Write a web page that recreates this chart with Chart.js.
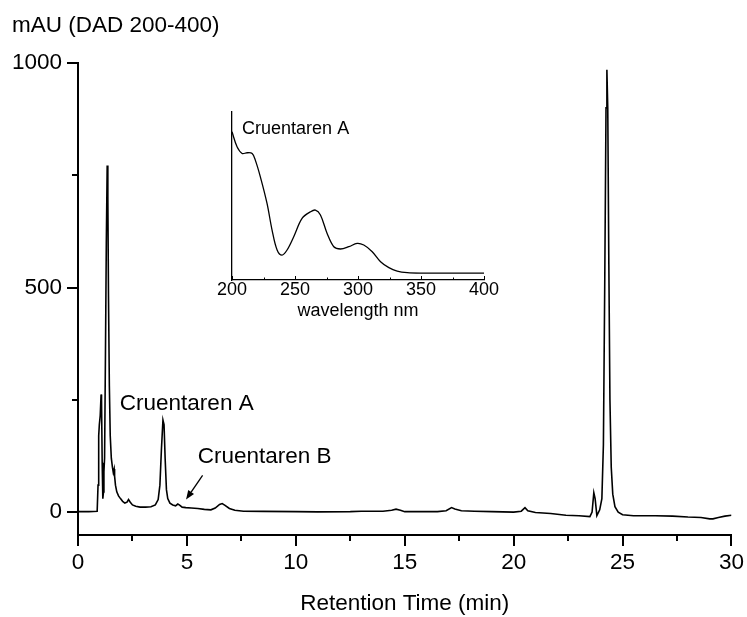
<!DOCTYPE html>
<html><head><meta charset="utf-8">
<script src="https://cdn.jsdelivr.net/npm/chart.js@4"></script>
<style>
html,body{margin:0;padding:0;background:#fff;}
#wrap{position:relative;width:747px;height:617px;overflow:hidden;}
#main{position:absolute;left:0;top:0;}
#inset{position:absolute;left:180px;top:95px;}
</style></head><body>
<div id="wrap">
<canvas id="main" width="747" height="617"></canvas>
<canvas id="inset" width="330" height="235"></canvas>
</div>
<script>
// ---- Chromatogram data ----
const retentionTime = [0.00,0.50,0.88,0.92,0.95,0.98,1.02,1.06,1.08,1.11,1.14,1.17,1.19,1.22,1.26,1.30,1.34,1.37,1.40,1.44,1.48,1.53,1.58,1.62,1.66,1.68,1.72,1.78,1.86,1.95,2.05,2.15,2.25,2.32,2.40,2.50,2.65,2.85,3.10,3.35,3.55,3.68,3.76,3.83,3.90,3.95,4.00,4.06,4.12,4.22,4.35,4.48,4.58,4.65,4.78,4.95,5.20,5.50,5.80,6.10,6.30,6.50,6.62,6.75,6.95,7.20,7.60,8.50,10.0,11.0,12.5,13.0,14.0,14.4,14.6,14.8,15.0,16.5,16.9,17.15,17.3,17.6,18.2,19.0,20.0,20.35,20.52,20.65,21.0,21.7,22.4,23.0,23.5,23.6,23.68,23.74,23.82,23.95,24.05,24.12,24.18,24.24,24.28,24.32,24.37,24.42,24.48,24.55,24.65,24.8,25.0,25.5,26.5,27.3,28.0,28.6,29.0,29.15,29.4,29.7,30.0];
const absorbance = [1,1,2,60,170,195,215,262,250,110,30,45,90,120,350,600,772,700,480,280,170,120,100,88,96,80,60,45,36,30,24,20,22,28,22,16,13,11,11,12,16,28,60,140,205,195,120,50,30,20,16,14,18,16,11,10,9,8,6,5,9,17,19,15,8,4,2,1.5,1,0.5,1,2,2,4,6.5,4,1,1,3,10,7,3,2,1,0,2,10,3,-1,-3,-7,-8,-10,0,43,30,-8,5,30,150,500,900,985,900,550,250,100,40,12,0,-6,-8,-8,-9,-11,-12,-15,-15,-12,-9,-7];
const xTickValues = [0,5,10,15,20,25,30];
const xMinorTicks = [2.5,7.5,12.5,17.5,22.5,27.5];
const yTickValues = [0,500,1000];
const yMinorTicks = [250,750];
const yAxisTitle = 'mAU (DAD 200-400)';
const xAxisTitle = 'Retention Time (min)';
const peakLabelA = {text:'Cruentaren A', x:1.92, y:228};
const peakLabelB = {text:'Cruentaren B', x:5.5, y:109};
const arrowB = {fromX:5.72, fromY:82, toX:4.96, toY:28};

// ---- Inset UV spectrum data ----
const wavelength = [200,204,208,212,216,218.5,222.5,227.8,231.8,235.8,239.7,243.7,249,255.6,262.3,266.2,270.2,275.5,280.8,286.1,292.7,299.3,304.6,311.3,317.9,324.5,331.1,339.1,349.7,400];
const spectrum = [1.0,0.894,0.847,0.852,0.847,0.80,0.682,0.494,0.306,0.165,0.129,0.165,0.259,0.388,0.435,0.447,0.412,0.282,0.188,0.172,0.188,0.212,0.2,0.153,0.082,0.04,0.016,0.005,0.002,0.002];
const insetTickValues = [200,250,300,350,400];
const insetMinorTicks = [225,275,325,375];
const insetXTitle = 'wavelength nm';
const insetLabel = {text:'Cruentaren A', x:208, y:0.988};

Chart.defaults.font.family = "'Liberation Sans', Arial, sans-serif";
Chart.defaults.color = '#000';

const mainFont = {size:22.5, weight:'normal', lineHeight:1.2};

const mainExtras = {
  id:'mainExtras',
  afterDraw(chart){
    const ctx = chart.ctx, xs = chart.scales.x, ys = chart.scales.y;
    ctx.save();
    ctx.strokeStyle = '#000'; ctx.lineWidth = 2;
    xMinorTicks.forEach(v=>{
      const px = Math.round(xs.getPixelForValue(v));
      ctx.beginPath(); ctx.moveTo(px, xs.top); ctx.lineTo(px, xs.top + 6); ctx.stroke();
    });
    yMinorTicks.forEach(v=>{
      const py = Math.round(ys.getPixelForValue(v));
      ctx.beginPath(); ctx.moveTo(ys.right, py); ctx.lineTo(ys.right - 6, py); ctx.stroke();
    });
    ctx.fillStyle = '#000';
    ctx.font = "22.5px 'Liberation Sans', Arial, sans-serif";
    ctx.textBaseline = 'alphabetic'; ctx.textAlign = 'left';
    [peakLabelA, peakLabelB].forEach(l=>{
      ctx.fillText(l.text, xs.getPixelForValue(l.x), ys.getPixelForValue(l.y));
    });
    // arrow
    const x1 = xs.getPixelForValue(arrowB.fromX), y1 = ys.getPixelForValue(arrowB.fromY);
    const x2 = xs.getPixelForValue(arrowB.toX), y2 = ys.getPixelForValue(arrowB.toY);
    const ang = Math.atan2(y2 - y1, x2 - x1), hl = 9, hw = 3.5;
    const bx = x2 - hl*Math.cos(ang), by = y2 - hl*Math.sin(ang);
    ctx.lineWidth = 1.3;
    ctx.beginPath(); ctx.moveTo(x1, y1); ctx.lineTo(bx, by); ctx.stroke();
    ctx.beginPath();
    ctx.moveTo(x2, y2);
    ctx.lineTo(bx + hw*Math.sin(ang), by - hw*Math.cos(ang));
    ctx.lineTo(bx - hw*Math.sin(ang), by + hw*Math.cos(ang));
    ctx.closePath(); ctx.fill();
    ctx.restore();
  }
};

new Chart(document.getElementById('main'), {
  type:'line',
  data:{datasets:[{
    data: retentionTime.map((t,i)=>({x:t, y:absorbance[i]})),
    borderColor:'#000', borderWidth:1.6, pointRadius:0, tension:0, fill:false
  }]},
  options:{
    responsive:false, animation:false, devicePixelRatio:1,
    layout:{padding:{left:12, right:14, top:0, bottom:0}},
    plugins:{
      legend:{display:false}, tooltip:{enabled:false},
      title:{display:true, text:yAxisTitle, align:'start', color:'#000', font:mainFont, padding:{top:12.5, bottom:23.5}}
    },
    scales:{
      x:{type:'linear', min:0, max:30,
        afterBuildTicks: s => { s.ticks = xTickValues.map(v=>({value:v})); },
        afterFit: s => { s.height = 82; },
        grid:{display:true, drawOnChartArea:false, drawTicks:true, tickLength:11, color:'#000', lineWidth:2},
        border:{display:true, color:'#000', width:2},
        ticks:{padding:3, font:mainFont, color:'#000', maxRotation:0, autoSkip:false, callback:v=>String(v)},
        title:{display:true, text:xAxisTitle, font:mainFont, color:'#000', padding:{top:0, bottom:0}}
      },
      y:{type:'linear', min:-51, max:1000,
        afterBuildTicks: s => { s.ticks = yTickValues.map(v=>({value:v})); },
        afterFit: s => { s.width = 66; },
        grid:{display:true, drawOnChartArea:false, drawTicks:true, tickLength:11, color:'#000', lineWidth:2},
        border:{display:true, color:'#000', width:2},
        ticks:{padding:5, font:mainFont, color:'#000', autoSkip:false, callback:v=>String(v)}
      }
    }
  },
  plugins:[mainExtras]
});

const insetExtras = {
  id:'insetExtras',
  afterDraw(chart){
    const ctx = chart.ctx, xs = chart.scales.x, ys = chart.scales.y;
    ctx.save();
    ctx.strokeStyle = '#000'; ctx.lineWidth = 1;
    insetTickValues.forEach(v=>{
      const px = Math.round(xs.getPixelForValue(v)) + 0.5;
      ctx.beginPath(); ctx.moveTo(px, xs.top); ctx.lineTo(px, xs.top - 4); ctx.stroke();
    });
    insetMinorTicks.forEach(v=>{
      const px = Math.round(xs.getPixelForValue(v)) + 0.5;
      ctx.beginPath(); ctx.moveTo(px, xs.top); ctx.lineTo(px, xs.top - 2.5); ctx.stroke();
    });
    ctx.fillStyle = '#000';
    ctx.font = "18px 'Liberation Sans', Arial, sans-serif";
    ctx.textBaseline = 'alphabetic'; ctx.textAlign = 'left';
    ctx.fillText(insetLabel.text, xs.getPixelForValue(insetLabel.x), ys.getPixelForValue(insetLabel.y));
    ctx.restore();
  }
};

new Chart(document.getElementById('inset'), {
  type:'line',
  data:{datasets:[{
    data: wavelength.map((w,i)=>({x:w, y:spectrum[i]})),
    borderColor:'#000', borderWidth:1.3, pointRadius:0, tension:0.35, fill:false
  }]},
  options:{
    responsive:false, animation:false, devicePixelRatio:1,
    layout:{padding:{left:52, right:26, top:17, bottom:0}},
    plugins:{legend:{display:false}, tooltip:{enabled:false}},
    scales:{
      x:{type:'linear', min:200, max:400,
        afterBuildTicks: s => { s.ticks = insetTickValues.map(v=>({value:v})); },
        afterFit: s => { s.height = 50; },
        grid:{display:false, drawTicks:false},
        border:{display:true, color:'#000', width:1.3},
        ticks:{padding:1, font:{size:18, lineHeight:1}, color:'#000', maxRotation:0, autoSkip:false, callback:v=>String(v)},
        title:{display:true, text:insetXTitle, font:{size:18, lineHeight:1.2}, color:'#000', padding:{top:0, bottom:8}}
      },
      y:{type:'linear', min:-0.047, max:1.14,
        afterFit: s => { s.width = 0; },
        grid:{display:false, drawTicks:false},
        border:{display:true, color:'#000', width:1.3},
        ticks:{display:false}
      }
    }
  },
  plugins:[insetExtras]
});
</script>
</body></html>
